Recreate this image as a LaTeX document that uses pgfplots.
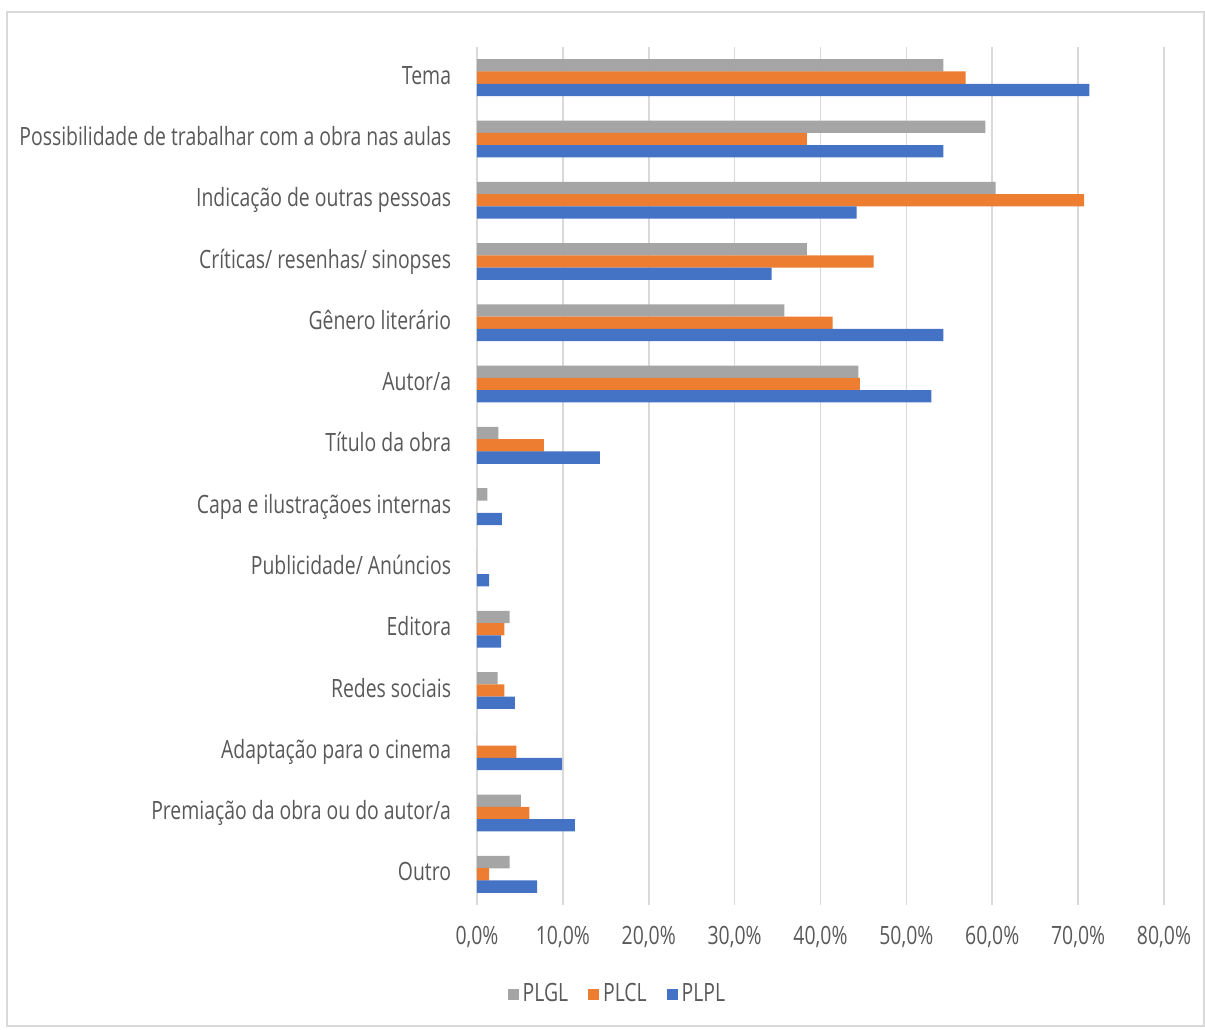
\documentclass[border=0pt]{standalone}
\usepackage{fontspec}
\setmainfont[FakeStretch=0.77]{Open Sans}
\usepackage{pgfplots}
\pgfplotsset{compat=1.18}
\definecolor{cgray}{HTML}{A5A5A5}
\definecolor{corange}{HTML}{ED7D31}
\definecolor{cblue}{HTML}{4472C4}
\definecolor{ctext}{HTML}{595959}
\definecolor{cgrid}{HTML}{D9D9D9}
\newcommand{\lblfont}{\fontsize{12.6}{15}\selectfont}
\begin{document}
\lblfont
\begin{tikzpicture}
\useasboundingbox (-238.5pt,-62pt) rectangle (364pt,452.5pt);
\draw[cgrid, line width=0.8pt] (-235pt,-60.5pt) rectangle (363.5pt,446.5pt);
\begin{axis}[
  at={(0pt,0pt)}, anchor=south west,
  scale only axis, width=343.5pt, height=429pt,
  xbar, bar width=6.15pt, bar shift=0pt,
  xmin=0, xmax=80, ymin=-0.5, ymax=13.5, y dir=reverse,
  axis line style={draw=none},
  tick style={draw=none},
  xmajorgrids, major grid style={cgrid, line width=0.8pt},
  xtick={0,10,20,30,40,50,60,70,80},
  xticklabels={{0,0\%},{10,0\%},{20,0\%},{30,0\%},{40,0\%},{50,0\%},{60,0\%},{70,0\%},{80,0\%}},
  ytick={0,1,2,3,4,5,6,7,8,9,10,11,12,13},
  yticklabels={Tema,
    Possibilidade de trabalhar com a obra nas aulas,
    Indicação de outras pessoas,
    Críticas/ resenhas/ sinopses,
    Gênero literário,
    Autor/a,
    Título da obra,
    Capa e ilustraçãoes internas,
    Publicidade/ Anúncios,
    Editora,
    Redes sociais,
    Adaptação para o cinema,
    Premiação da obra ou do autor/a,
    Outro},
  xticklabel style={font=\lblfont, text=ctext, inner sep=0pt, anchor=north, yshift=-10.5pt, text height=9pt, text depth=0pt},
  yticklabel style={font=\lblfont, text=ctext, inner sep=0pt, anchor=east, xshift=-8.5pt, text height=9pt, text depth=2.5pt},
  legend style={at={(0.206,-0.104)}, anchor=center, draw=none, fill=none,
    legend columns=3, font=\lblfont, text=ctext, inner sep=0pt,
    /tikz/every even column/.append style={column sep=8pt}},
  legend image code/.code={\fill[#1] (0pt,-2.7pt) rectangle (5.4pt,2.7pt);},
]
\addplot[draw=none, fill=cgray] coordinates {
(54.3,-0.2) (59.2,0.8) (60.4,1.8) (38.4,2.8) (35.8,3.8) (44.4,4.8) (2.5,5.8)
(1.2,6.8) (0,7.8) (3.8,8.8) (2.4,9.8) (0,10.8) (5.1,11.8) (3.8,12.8)};
\addlegendentry{PLGL}
\addplot[draw=none, fill=corange] coordinates {
(56.9,0) (38.4,1) (70.7,2) (46.2,3) (41.4,4) (44.6,5) (7.8,6)
(0,7) (0,8) (3.2,9) (3.2,10) (4.6,11) (6.1,12) (1.4,13)};
\addlegendentry{PLCL}
\addplot[draw=none, fill=cblue] coordinates {
(71.3,0.2) (54.3,1.2) (44.2,2.2) (34.3,3.2) (54.3,4.2) (52.9,5.2) (14.3,6.2)
(2.9,7.2) (1.4,8.2) (2.8,9.2) (4.4,10.2) (9.9,11.2) (11.4,12.2) (7.0,13.2)};
\addlegendentry{PLPL}
\end{axis}
\end{tikzpicture}
\end{document}
